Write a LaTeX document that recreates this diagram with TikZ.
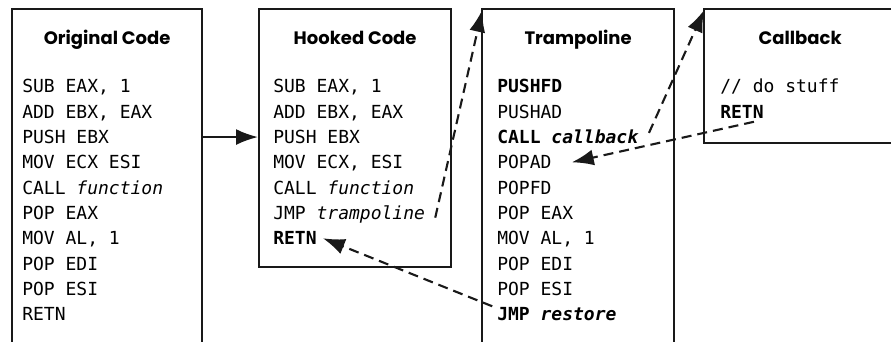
\documentclass[tikz,border=0pt]{standalone}
\usepackage{fontspec}
\setsansfont{Poppins}
\setmonofont{DejaVu Sans Mono}
\usetikzlibrary{arrows.meta}

\begin{document}
\begin{tikzpicture}[
    box/.style={draw=black!90, line width=1.6pt, inner sep=0pt, anchor=north west},
    title/.style={font=\sffamily\bfseries\fontsize{12.8}{14}\selectfont, anchor=base, inner sep=0pt},
    code/.style={font=\ttfamily\fontsize{12.8}{15}\selectfont, anchor=base west, inner sep=0pt},
    arrow/.style={-{Latex[length=5.5mm, width=4mm]}, line width=1.5pt, black!90},
    dasharrow/.style={arrow, dash pattern=on 2.5mm off 1.5mm},
]
    \useasboundingbox (0,0) rectangle (22.275,8.55);

    % boxes
    \node[box, minimum width=4.75cm, minimum height=9cm] (orig) at (0.275, 8.35) {};
    \node[box, minimum width=4.8cm, minimum height=6.45cm] (hook) at (6.45, 8.35) {};
    \node[box, minimum width=4.8cm, minimum height=9cm] (tramp) at (12.025, 8.35) {};
    \node[box, minimum width=4.8cm, minimum height=3.35cm] (cb) at (17.575, 8.35) {};

    % titles
    \node[title] (orig-title) at ([yshift=-0.925cm]orig.north) {Original Code};
    \node[title] (hook-title) at ([yshift=-0.925cm]hook.north) {Hooked Code};
    \node[title] (tramp-title) at ([yshift=-0.925cm]tramp.north) {Trampoline};
    \node[title] (cb-title) at ([yshift=-0.925cm]cb.north) {Callback};

    % code lines
    \foreach \txt [count=\i] in {{SUB EAX, 1}, {ADD EBX, EAX}, {PUSH EBX}, {MOV ECX ESI},
        {CALL \textit{function}}, {POP EAX}, {MOV AL, 1}, {POP EDI}, {POP ESI}, {RETN}}
        \node[code] (orig-\i) at ([xshift=0.275cm, yshift={-2.125cm-(\i-1)*0.6325cm}]orig.north west) {\txt};
    \foreach \txt [count=\i] in {{SUB EAX, 1}, {ADD EBX, EAX}, {PUSH EBX}, {MOV ECX, ESI},
        {CALL \textit{function}}, {JMP \textit{trampoline}}, {\textbf{RETN}}}
        \node[code] (hook-\i) at ([xshift=0.375cm, yshift={-2.125cm-(\i-1)*0.6325cm}]hook.north west) {\txt};
    \foreach \txt [count=\i] in {{\textbf{PUSHFD}}, {PUSHAD}, {\textbf{CALL \textit{callback}}}, {POPAD},
        {POPFD}, {POP EAX}, {MOV AL, 1}, {POP EDI}, {POP ESI}, {\textbf{JMP \textit{restore}}}}
        \node[code] (tramp-\i) at ([xshift=0.4cm, yshift={-2.125cm-(\i-1)*0.6325cm}]tramp.north west) {\txt};
    \foreach \txt [count=\i] in {{// do stuff}, {\textbf{RETN}}}
        \node[code] (cb-\i) at ([xshift=0.425cm, yshift={-2.125cm-(\i-1)*0.6325cm}]cb.north west) {\txt};

    % arrows
    \draw[arrow] (orig.east |- orig-3) -- (hook.west |- orig-3);
    \draw[dasharrow] ([xshift=0.25cm, yshift=-0.08cm]hook-6.east) -- ([xshift=0.03cm, yshift=-0.05cm]tramp.north west);
    \draw[dasharrow] ([xshift=-0.12cm, yshift=0.2cm]tramp-10.west) -- ([xshift=0.15cm]hook-7.east);
    \draw[dasharrow] ([xshift=0.25cm, yshift=0.1cm]tramp-3.east) -- ([xshift=0.03cm, yshift=-0.05cm]cb.north west);
    \draw[dasharrow] ([xshift=-0.25cm, yshift=-0.08cm]cb-2.south east) -- ([xshift=0.5cm]tramp-4.east);
\end{tikzpicture}
\end{document}
